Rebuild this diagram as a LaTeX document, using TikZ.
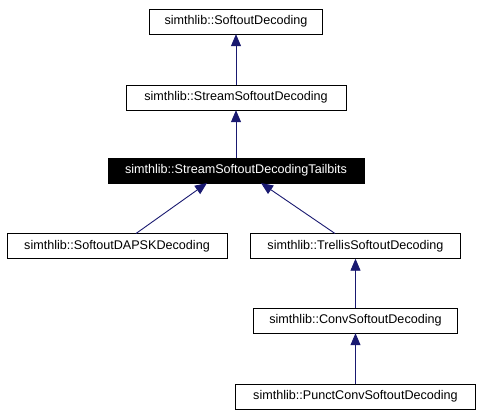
\documentclass[tikz,border=0pt]{standalone}
\usepackage{fontspec}
\setmainfont{Liberation Sans}
\usetikzlibrary{arrows.meta}

\definecolor{navyblue}{RGB}{25,25,112}
\tikzset{
    cls/.style={shape=rectangle, draw=black, fill=white, inner sep=0pt,
        minimum height=25pt, font=\fontsize{12.6}{14}\selectfont},
    clsmain/.style={cls, fill=black, text=white},
    inherit/.style={draw=navyblue, line width=0.9pt,
        -{Triangle[length=12pt, width=10pt, fill=navyblue]}}
}

\begin{document}
\begin{tikzpicture}[x=1pt, y=-1pt]
            \useasboundingbox (0, 0) rectangle (480, 415);

            \node[cls, minimum width=173pt] (a) at (236, 21.5){simthlib::SoftoutDecoding};
            \node[cls, minimum width=220pt] (b) at (236, 97.5){simthlib::StreamSoftoutDecoding};
            \node[clsmain, minimum width=256pt] (c) at (236, 170.5){simthlib::StreamSoftoutDecodingTailbits};

            \node[cls, minimum width=220pt] (d) at (117, 246){simthlib::SoftoutDAPSKDecoding};
            \node[cls, minimum width=210pt] (e) at (355.5, 246){simthlib::TrellisSoftoutDecoding};
            \node[cls, minimum width=204pt] (f) at (355.5, 320.5){simthlib::ConvSoftoutDecoding};
            \node[cls, minimum width=240pt] (g) at (355.5, 396.5){simthlib::PunctConvSoftoutDecoding};

            \coordinate (cl) at (207, 183);
            \coordinate (cr) at (261, 183);
            \coordinate (dt) at (136, 233.5);
            \coordinate (et) at (335, 233.5);

            \draw [inherit] (b) -- (a);
            \draw [inherit] (c) -- (b);

            \draw [inherit] (dt) -- (cl);
            \draw [inherit] (et) -- (cr);

            \draw [inherit] (f) -- (e);
            \draw [inherit] (g) -- (f);
        \end{tikzpicture}
\end{document}
